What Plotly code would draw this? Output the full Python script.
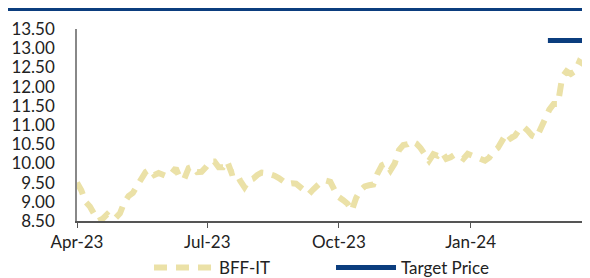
import pandas as pd
import plotly.graph_objects as go

start_date = "2023-04-01"
price_values = [
    9.5, 9.3, 9.0, 8.88, 8.68, 8.5, 8.56, 8.67, 8.56, 8.58,
    8.7, 8.98, 9.15, 9.23, 9.42, 9.6, 9.78, 9.85, 9.7, 9.75,
    9.7, 9.66, 9.73, 9.88, 9.6, 9.6, 9.88, 9.92, 9.77, 9.78,
    9.9, 10.05, 10.05, 9.9, 9.9, 10.05, 9.75, 9.78, 9.55, 9.38,
    9.56, 9.6, 9.7, 9.76, 9.75, 9.73, 9.68, 9.62, 9.55, 9.46,
    9.48, 9.47, 9.38, 9.28, 9.2, 9.32, 9.45, 9.53, 9.55, 9.52,
    9.3, 9.12, 9.04, 8.95, 8.77, 9.1, 9.3, 9.4, 9.43, 9.45,
    9.74, 9.95, 10.0, 9.82, 10.0, 10.35, 10.48, 10.5, 10.58, 10.52,
    10.4, 10.22, 10.07, 10.24, 10.2, 10.3, 10.12, 10.16, 10.23, 10.2,
    10.12, 10.25, 10.2, 10.15, 10.08, 10.07, 10.15, 10.32, 10.4, 10.63,
    10.78, 10.65, 10.72, 10.88, 10.95, 10.85, 10.72, 10.67, 10.9, 11.2,
    11.4, 11.55, 11.55, 12.25, 12.4, 12.33, 12.4, 12.65, 12.6, 12.52,
    12.4, 12.2,
]
price_dates = pd.date_range(start_date, periods=len(price_values), freq="3D")

target_dates = ["2024-02-24", "2024-03-30"]
target_values = [13.2, 13.2]

x_range = ["2023-04-01", "2024-03-30"]
x_tickvals = ["2023-04-01", "2023-07-01", "2023-10-01", "2024-01-01"]
x_ticktext = ["Apr-23", "Jul-23", "Oct-23", "Jan-24"]

FONT = "Lato"

fig = go.Figure()
fig.add_trace(go.Scatter(
    x=price_dates, y=price_values, mode="lines", name="BFF-IT",
    line=dict(color="#EBE1A7", width=6, dash="13px,9px"),
))
fig.add_trace(go.Scatter(
    x=target_dates, y=target_values, mode="lines", name="Target Price",
    line=dict(color="#0B3D7E", width=5),
))

fig.update_layout(
    width=590, height=278,
    margin=dict(l=69, r=0, t=21, b=65, autoexpand=False),
    paper_bgcolor="white", plot_bgcolor="white",
    font=dict(family=FONT, size=17, color="#222222"),
    showlegend=True,
    legend=dict(orientation="h", xref="container", yref="container",
                x=0.239, xanchor="left", y=-0.012, yanchor="bottom",
                itemwidth=60, entrywidth=107, font=dict(size=17),
                bgcolor="rgba(0,0,0,0)"),
    shapes=[dict(type="rect", xref="paper", yref="paper", x0=-0.14, x1=1.0,
                 y0=1.094, y1=1.115, fillcolor="#0B3D7E", line=dict(width=0))],
)
fig.update_xaxes(
    range=x_range, tickvals=x_tickvals, ticktext=x_ticktext,
    showgrid=False, zeroline=False, showline=True, linecolor="#555555", linewidth=1.5,
    ticks="outside", ticklen=5, tickcolor="#555555", tickwidth=1,
    ticklabelstandoff=0,
)
fig.update_yaxes(
    range=[8.5, 13.5], dtick=0.5, tickformat=".2f",
    showgrid=False, zeroline=False, showline=True, linecolor="#888888", linewidth=1.5,
    ticks="", ticklabelstandoff=17,
)

fig.write_html("out.html")
